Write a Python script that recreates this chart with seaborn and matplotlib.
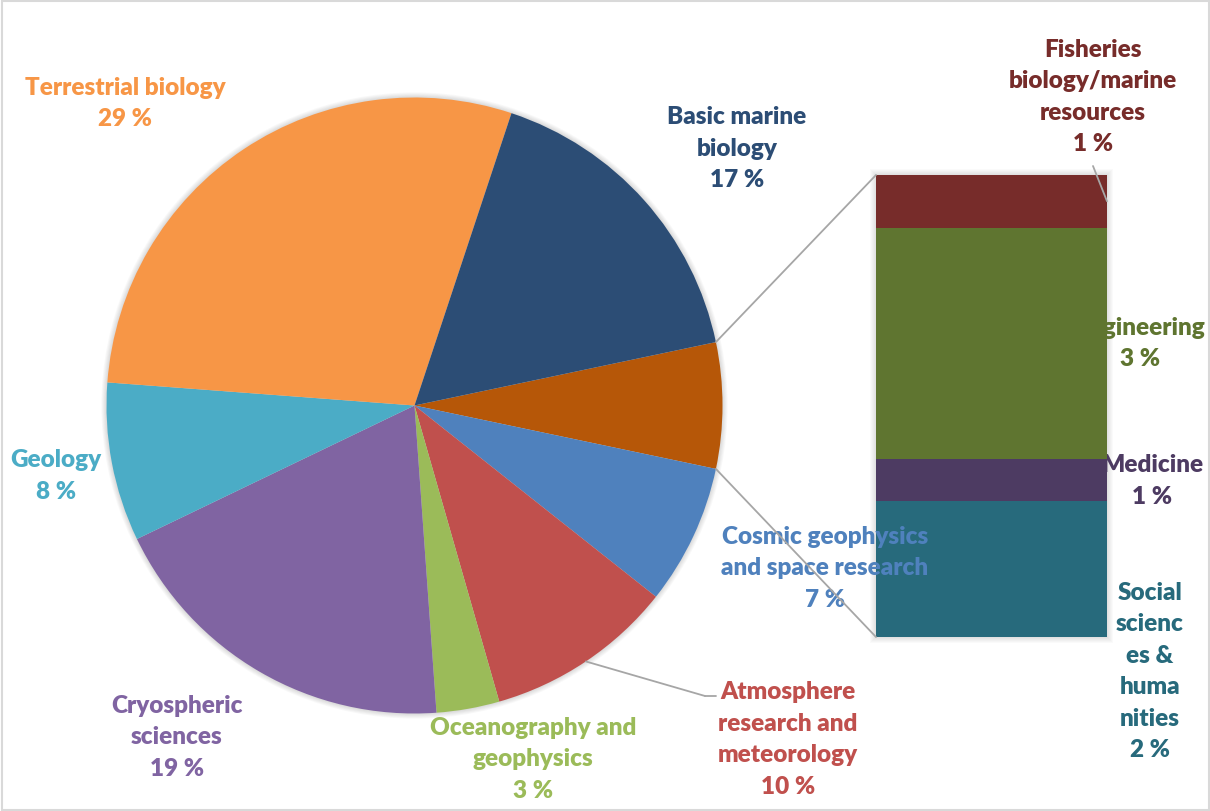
import matplotlib
matplotlib.use("Agg")
import matplotlib.pyplot as plt
import matplotlib.patches as mpatches
from matplotlib.patches import ConnectionPatch
import numpy as np
import seaborn as sns

# ---- data (share of projects, %) ----
# main pie, clockwise starting after the aggregated "other" slice
main_labels = ["Cosmic geophysics\nand space research",
               "Atmosphere\nresearch and\nmeteorology",
               "Oceanography and\ngeophysics",
               "Cryospheric\nsciences",
               "Geology",
               "Terrestrial biology",
               "Basic marine\nbiology"]
main_values = [7.36, 9.9, 3.3, 19.0, 8.33, 28.9, 16.6]
main_colors = ["#4F81BD", "#C0504D", "#9BBB59", "#8064A2",
               "#4BACC6", "#F79646", "#2C4D75"]

# secondary bar, top to bottom
bar_labels = ["Fisheries\nbiology/marine\nresources",
              "Engineering",
              "Medicine",
              "Social\nscienc\nes &\nhuma\nnities"]
bar_values = [0.75, 3.3, 0.6, 1.95]
bar_colors = ["#772C2A", "#5F7530", "#4D3B62", "#276A7C"]
other_color = "#B65708"

sns.set_theme(style="white")
plt.rcParams["font.family"] = ["Lato", "DejaVu Sans"]

W, H = 1210, 812
fig = plt.figure(figsize=(W / 100, H / 100), dpi=100)
fig.patch.set_facecolor("white")

def frac_box(x0, y0, x1, y1):
    """pixel box (top-left origin) -> figure fraction rect"""
    return [x0 / W, (H - y1) / H, (x1 - x0) / W, (y1 - y0) / H]

# ---- pie ----
ax_pie = fig.add_axes(frac_box(106.5, 98.5, 722.5, 714.5))
other_total = sum(bar_values)
pie_values = [other_total] + main_values
pie_colors = [other_color] + main_colors
start = 360 * other_total / sum(pie_values) / 2
wedges, _ = ax_pie.pie(pie_values, colors=pie_colors, startangle=start,
                       counterclock=False, radius=1,
                       wedgeprops=dict(linewidth=0))
ax_pie.set_xlim(-1, 1)
ax_pie.set_ylim(-1, 1)
ax_pie.set_aspect("equal")
ax_pie.set_axis_off()
# soft outer shadow
for k in range(1, 7):
    ax_pie.add_patch(mpatches.Circle((0, 0), 1 + k * 0.0028, color="black",
                                     alpha=0.022, lw=0, zorder=0, clip_on=False))

# ---- stacked bar (secondary) ----
ax_bar = fig.add_axes(frac_box(876, 176, 1107, 638))
stack_order = list(range(len(bar_values)))[::-1]  # bottom to top
bottom = 0.0
seg_bounds = {}
for i in stack_order:
    ax_bar.bar(0, bar_values[i], bottom=bottom, width=1.0,
               color=bar_colors[i], linewidth=0, zorder=2)
    seg_bounds[i] = (bottom, bottom + bar_values[i])
    bottom += bar_values[i]
ax_bar.set_xlim(-0.5, 0.5)
ax_bar.set_ylim(0, other_total)
ax_bar.set_axis_off()
for k in range(1, 7):
    d = k * 0.0045
    ax_bar.add_patch(mpatches.Rectangle((-0.5 - d, -d * 0.5 * other_total), 1 + 2 * d,
                                        other_total * (1 + d), transform=ax_bar.transData,
                                        color="black", alpha=0.02, lw=0, zorder=0,
                                        clip_on=False))

# ---- overlay for text and leader lines (pixel coords) ----
ov = fig.add_axes([0, 0, 1, 1])
ov.set_xlim(0, W)
ov.set_ylim(H, 0)
ov.set_axis_off()

line_col = "#A6A6A6"

# connector lines between the "other" wedge and the bar
w0 = wedges[0]
a_hi, a_lo = np.deg2rad(max(w0.theta1, w0.theta2)), np.deg2rad(min(w0.theta1, w0.theta2))
for ang, yb in [(a_hi, other_total), (a_lo, 0)]:
    con = ConnectionPatch(xyA=(np.cos(ang), np.sin(ang)), coordsA=ax_pie.transData,
                          xyB=(-0.5, yb), coordsB=ax_bar.transData,
                          color=line_col, lw=1.3, zorder=5)
    fig.add_artist(con)

# leader line for the atmosphere wedge
wa = wedges[2]
am = np.deg2rad((wa.theta1 + wa.theta2) / 2)
con = ConnectionPatch(xyA=(np.cos(am), np.sin(am)), coordsA=ax_pie.transData,
                      xyB=(705, 697), coordsB=ov.transData, color=line_col, lw=1.3)
fig.add_artist(con)
ov.plot([705, 716], [697, 697], color=line_col, lw=1.3)

# leader line for the fisheries segment
f_lo, f_hi = seg_bounds[0]
con = ConnectionPatch(xyA=(1093, 167), coordsA=ov.transData,
                      xyB=(0.5, (f_lo + f_hi) / 2), coordsB=ax_bar.transData,
                      color=line_col, lw=1.3)
fig.add_artist(con)

FS = 17.5
LS = 1.52
FW = 800

def pct(v):
    return f"{v:.0f} %"

main_pos = [(825, 568.5), (788, 739.5), (533, 759.5), (177, 737.5),
            (56, 476), (125, 103.5), (737, 148.5)]
for lab, val, col, (x, y) in zip(main_labels, main_values, main_colors, main_pos):
    ov.text(x, y, f"{lab}\n{pct(val)}", color=col, fontsize=FS, fontweight=FW,
            ha="center", va="center", multialignment="center", linespacing=LS,
            zorder=6)

# bar labels sit beneath the bar itself
bar_pos = [(1093, 97), (1140, 343.5), (1152, 481), (1150, 671.5)]
for lab, val, col, (x, y) in zip(bar_labels, bar_values, bar_colors, bar_pos):
    ax_bar.text(x, y, f"{lab}\n{pct(val)}", color=col, fontsize=FS, fontweight=FW,
                ha="center", va="center", multialignment="center", linespacing=LS,
                transform=ov.transData, zorder=1, clip_on=False)

# chart border
fig.add_artist(mpatches.Rectangle((1.5 / W, 1.5 / H), (W - 3) / W, (H - 3) / H,
                                  transform=fig.transFigure, fill=False,
                                  edgecolor="#D9D9D9", lw=1.5))

fig.savefig("out.png", dpi=100, facecolor="white")
